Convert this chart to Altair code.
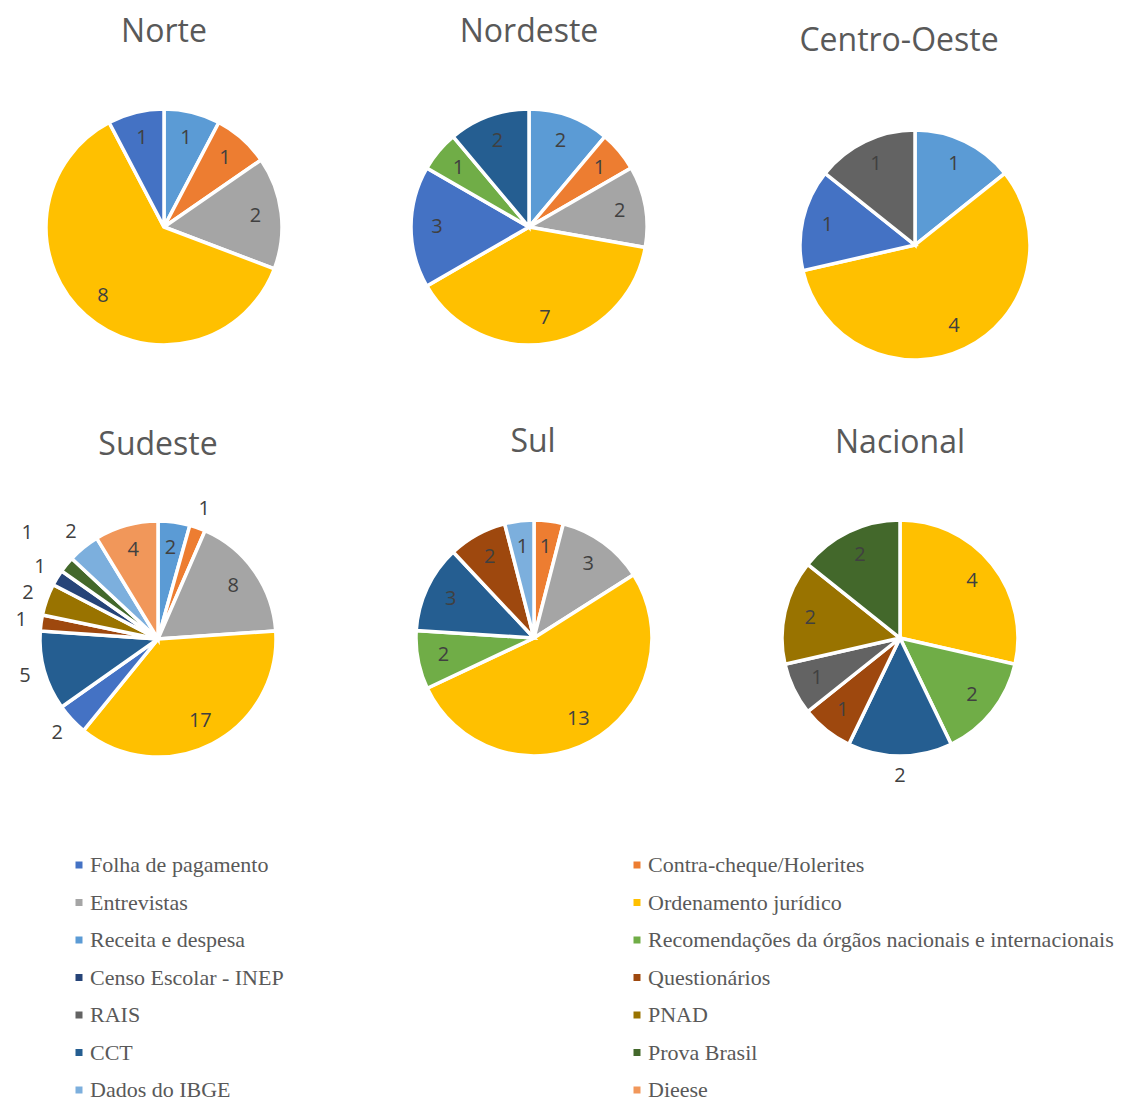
import altair as alt
import pandas as pd

# ---- data -------------------------------------------------------------
# order in which slices are stacked (clockwise from 12 o'clock)
STACK_ORDER = [
    "Receita e despesa", "Contra-cheque/Holerites", "Entrevistas",
    "Ordenamento jurídico", "Folha de pagamento",
    "Recomendações da órgãos nacionais e internacionais", "CCT",
    "Questionários", "RAIS", "PNAD", "Censo Escolar - INEP",
    "Prova Brasil", "Dados do IBGE", "Dieese",
]
# legend order as read row by row (two columns)
LEGEND_ORDER = [
    "Folha de pagamento", "Contra-cheque/Holerites", "Entrevistas",
    "Ordenamento jurídico", "Receita e despesa",
    "Recomendações da órgãos nacionais e internacionais",
    "Censo Escolar - INEP", "Questionários", "RAIS", "PNAD", "CCT",
    "Prova Brasil", "Dados do IBGE", "Dieese",
]
LEGEND_COLORS = [
    "#4472C4", "#ED7D31", "#A5A5A5", "#FFC000", "#5B9BD5", "#70AD47",
    "#264478", "#9E480E", "#636363", "#997300", "#255E91", "#43682B",
    "#7CAFDD", "#F1975A",
]

REGIONS = ["Norte", "Nordeste", "Centro-Oeste", "Sudeste", "Sul", "Nacional"]

# values per region, in STACK_ORDER
norte = [1, 1, 2, 8, 1, 0, 0, 0, 0, 0, 0, 0, 0, 0]
nordeste = [2, 1, 2, 7, 3, 1, 2, 0, 0, 0, 0, 0, 0, 0]
centro_oeste = [1, 0, 0, 4, 1, 0, 0, 0, 1, 0, 0, 0, 0, 0]
sudeste = [2, 1, 8, 17, 2, 0, 5, 1, 0, 2, 1, 1, 2, 4]
sul = [0, 1, 3, 13, 0, 2, 3, 2, 0, 0, 0, 0, 1, 0]
nacional = [0, 0, 0, 4, 0, 2, 2, 1, 1, 2, 0, 2, 0, 0]
VALUES = [norte, nordeste, centro_oeste, sudeste, sul, nacional]

# ---- layout / style config -------------------------------------------
PIE_LAYOUT = {  # centre x, centre y, radius
    "Norte": (164, 227, 118),
    "Nordeste": (529, 227, 118),
    "Centro-Oeste": (915, 245, 115),
    "Sudeste": (158, 639, 118),
    "Sul": (534, 638, 118),
    "Nacional": (900, 638, 118),
}
TITLE_POS = {
    "Norte": (164, 32),
    "Nordeste": (529, 32),
    "Centro-Oeste": (899, 41),
    "Sudeste": (158, 445),
    "Sul": (533, 442),
    "Nacional": (900, 443),
}
OUTSIDE = {
    "Sudeste": ["Contra-cheque/Holerites", "Folha de pagamento", "CCT",
                "Questionários", "PNAD", "Censo Escolar - INEP",
                "Dados do IBGE"],
    "Nacional": ["CCT"],
}
FAR = {"Sudeste": ["Prova Brasil"]}
PLACE_RADIUS = {"in": 0.78, "out": 1.17, "far": 1.43}

rows = []
for region, vals in zip(REGIONS, VALUES):
    for i, (cat, v) in enumerate(zip(STACK_ORDER, vals)):
        if v > 0:
            place = "in"
            if cat in OUTSIDE.get(region, []):
                place = "out"
            if cat in FAR.get(region, []):
                place = "far"
            rows.append({"region": region, "cat": cat, "value": v,
                         "idx": i, "place": place})
df = pd.DataFrame(rows)

# Vega fills legend columns top-to-bottom: reorder so it reads row by row
dom = LEGEND_ORDER[0::2] + LEGEND_ORDER[1::2]
rng = LEGEND_COLORS[0::2] + LEGEND_COLORS[1::2]

color = alt.Color(
    "cat:N",
    scale=alt.Scale(domain=dom, range=rng),
    legend=alt.Legend(
        title=None, orient="none", legendX=68, legendY=854, columns=2,
        columnPadding=342, rowPadding=15.5, symbolType="square",
        symbolSize=49, symbolStrokeWidth=0, labelFont="Liberation Serif",
        labelFontSize=22, labelColor="#595959", labelLimit=700,
        padding=0, labelOffset=0,
    ),
)

layers = []
for region in REGIONS:
    cx, cy, R = PIE_LAYOUT[region]
    base = alt.Chart(df).transform_filter(alt.datum.region == region)
    arc = base.mark_arc(radius=R, stroke="white", strokeWidth=3.5).encode(
        x=alt.value(cx), y=alt.value(cy),
        theta=alt.Theta("value:Q", stack="normalize"),
        color=color,
        order=alt.Order("idx:Q"),
    )
    layers.append(arc)
    for place, k in PLACE_RADIUS.items():
        txt = base.transform_calculate(
            lab=f"datum.place == '{place}' ? '' + datum.value : ''"
        ).mark_text(
            radius=R * k, font="Open Sans", fontSize=20, color="#404040",
            align="center", baseline="middle",
        ).encode(
            x=alt.value(cx), y=alt.value(cy),
            theta=alt.Theta("value:Q", stack="normalize"),
            order=alt.Order("idx:Q"),
            detail="cat:N",
            text="lab:N",
        )
        layers.append(txt)
    tx, ty = TITLE_POS[region]
    title = alt.Chart(pd.DataFrame({"t": [region]})).mark_text(
        font="Open Sans", fontSize=32, color="#595959",
        align="center", baseline="middle",
    ).encode(text="t:N", x=alt.value(tx), y=alt.value(ty))
    layers.append(title)

chart = alt.layer(*layers).properties(
    width=1128, height=1102, padding=0,
    autosize=alt.AutoSizeParams(type="none"),
    background="white",
).configure_view(stroke=None)

chart.save("out.html", embed_options={"renderer": "svg", "actions": False})
